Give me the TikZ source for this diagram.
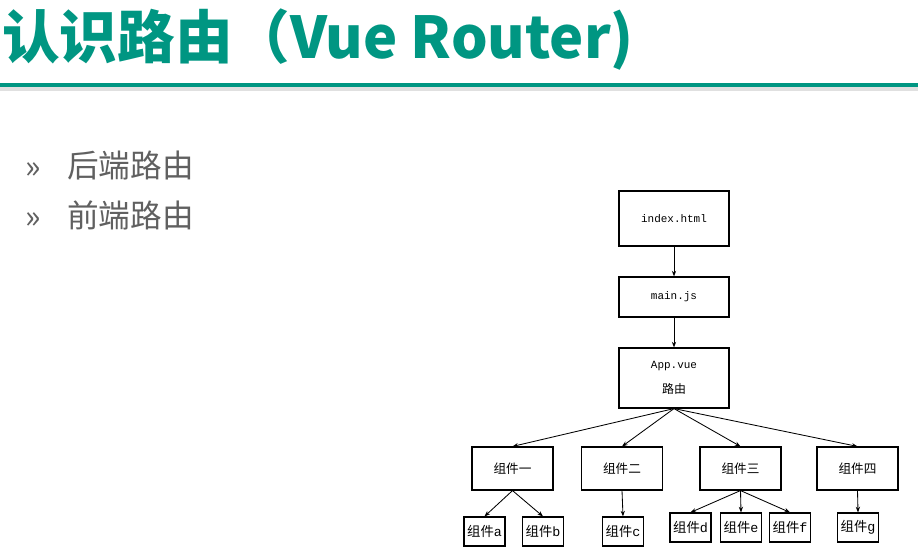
\documentclass[tikz,border=0pt]{standalone}
\usepackage{fontspec}
\setmonofont{Liberation Mono}
\newfontfamily\cjk{Noto Sans CJK SC}
\usetikzlibrary{arrows.meta}
\definecolor{titleteal}{RGB}{0,150,130}
\definecolor{itemgray}{RGB}{96,96,96}
\tikzset{
  bigbox/.style = {draw, line width=0.8pt, minimum width=2.75cm, inner sep=0pt, font=\cjk\fontsize{8.5}{10}\selectfont},
  midbox/.style = {draw, line width=0.8pt, minimum width=2.025cm, minimum height=1.075cm, inner sep=0pt, font=\cjk\fontsize{9}{10}\selectfont},
  smallbox/.style = {draw, line width=0.8pt, minimum width=1.025cm, minimum height=0.725cm, inner sep=0pt, font=\cjk\fontsize{9.5}{10}\selectfont},
  link/.style = {-{Stealth[length=4pt,width=3pt]}, line width=0.6pt}
}
\begin{document}
\begin{tikzpicture}[x=0.025cm, y=-0.025cm]
\useasboundingbox (0,0) rectangle (918,557);

% title
\node[anchor=west, inner sep=0pt, text=titleteal, font=\cjk\bfseries\fontsize{41}{41}\selectfont] (title) at (2,40) {认识路由（Vue Router)};
\fill[black!12] (0,87) rectangle (918,91);
\draw[titleteal, line width=2.2pt] (0,85) -- (918,85);

% items
\node[text=itemgray, font=\cjk\fontsize{23}{23}\selectfont] (dot1) at (33,171) {»};
\node[text=itemgray, font=\cjk\fontsize{23}{23}\selectfont] (dot2) at (33,221) {»};
\node[anchor=west, inner sep=0pt, text=itemgray, font=\cjk\fontsize{22.5}{24}\selectfont] (back) at (67,165) {后端路由};
\node[anchor=west, inner sep=0pt, text=itemgray, font=\cjk\fontsize{22.5}{24}\selectfont] (front) at (67,215) {前端路由};

% tree
\node[bigbox, minimum height=1.375cm] (index) at (674,218.5) {\ttfamily\fontsize{7.8}{9}\selectfont index.html};
\node[bigbox, minimum height=1cm] (mainjs) at (674,297) {\ttfamily\fontsize{7.8}{9}\selectfont main.js};
\node[bigbox, minimum height=1.5cm, align=center] (app) at (674,378)
  {{\ttfamily\fontsize{7.8}{9}\selectfont App.vue}\\[8pt]路由};

\node[midbox] (c1) at (512.5,468.5) {组件一};
\node[midbox] (c2) at (622,468.5) {组件二};
\node[midbox] (c3) at (740.5,468.5) {组件三};
\node[midbox] (c4) at (857.5,468.5) {组件四};

\node[smallbox] (ca) at (484.5,531.5) {组件\texttt{a}};
\node[smallbox] (cb) at (543,531.5) {组件\texttt{b}};
\node[smallbox] (cc) at (623,531.5) {组件\texttt{c}};
\node[smallbox] (cd) at (690.5,527.5) {组件\texttt{d}};
\node[smallbox] (ce) at (741,527.5) {组件\texttt{e}};
\node[smallbox] (cf) at (790,527.5) {组件\texttt{f}};
\node[smallbox] (cg) at (858,527.5) {组件\texttt{g}};

\foreach \a/\b in {index/mainjs, mainjs/app, app/c1, app/c2, app/c3, app/c4, c1/ca, c1/cb, c2/cc, c3/cd, c3/ce, c3/cf, c4/cg} {\draw[link] (\a.south) -- (\b.north);}

\end{tikzpicture}
\end{document}
